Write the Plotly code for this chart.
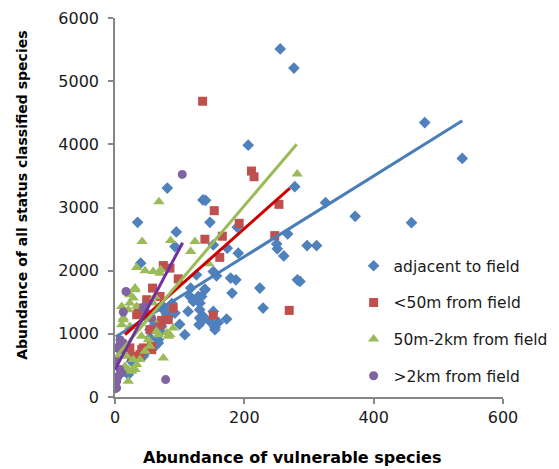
import plotly.graph_objects as go

# ---- data ----
adj_x = [255.5, 276.7, 206, 80.9, 136, 140, 278, 325.6, 479, 537, 371.4, 458.5, 297, 311.7, 286,
         146.8, 189, 267, 250, 251, 261, 190.6, 173.6, 152, 152, 157, 178.8, 187, 139, 181, 224, 282,
         229, 134, 131, 136.5, 152, 159.7, 172.6, 154.6, 35, 94.8, 92.7, 39.7, 126, 117, 116, 121,
         128.7, 131.4, 139, 108, 72, 80, 74.7, 67, 62, 43.8, 54, 130, 61.8, 69.6, 82.4, 54, 67, 49,
         36, 25.8, 20.6, 92.7, 76, 131, 136.5, 154.6, 146.8, 113, 100, 88]
adj_y = [5510, 5208, 3987, 3308, 3120, 3113, 3329, 3076, 4345, 3777, 2861, 2760, 2397, 2397, 1829,
         2766, 2687, 2582, 2424, 2345, 2234, 2277, 2356, 2408, 1986, 1918, 1882, 1855, 1708, 1645, 1724, 1855,
         1408, 1592, 1382, 1276, 1355, 1181, 1235, 1102, 2766, 2613, 2381, 2119, 1934, 1724, 1592, 1513,
         1592, 1487, 1697, 987, 1118, 1303, 1382, 856, 802, 644, 935, 1145, 1171, 1039, 1276, 1066, 908, 723,
         644, 565, 355, 1329, 1418, 1250, 1224, 1066, 1197, 1355, 1150, 1480]

lt50_x = [135.5, 211, 215, 253.5, 153.5, 192, 247, 139, 166, 162, 269.4, 152, 74.7, 85, 97.8, 58, 49,
          37.6, 33.5, 90, 72, 82.4, 69.6, 56.7, 43.8, 23, 38.6, 25.8, 69.6, 36, 54, 56.7, 41.3]
lt50_y = [4682, 3577, 3487, 3050, 2950, 2750, 2555, 2498, 2545, 2210, 1371, 1292, 2081, 2040, 1871, 1724, 1540,
          1408, 1303, 1408, 1213, 1224, 1145, 750, 777, 777, 671, 644, 1592, 1329, 1066, 802, 750]

mid_x = [68, 281.8, 145, 42, 86, 123.6, 33.5, 46.4, 59, 70.6, 69.6, 117, 31, 23, 28.3, 61.8, 59, 12.8,
         10.4, 20.6, 23, 38.6, 46.4, 59, 64.4, 80, 90, 85, 41, 51.5, 54, 74.7, 7.7, 5.1, 18, 28.3, 33.5,
         15.5, 25.8, 20.6, 31, 33.5, 23, 67, 82.4, 46.4, 38.6, 31, 20.6, 10.4, 12.8]
mid_y = [3092, 3529, 2108, 2460, 2476, 2460, 2050, 1998, 1987, 2013, 1961, 2302, 1697, 1618, 1566, 1592, 1487, 1250,
         1434, 1382, 1118, 1171, 1250, 1224, 1039, 1013, 1092, 987, 960, 908, 802, 619, 802, 644, 644, 592, 513,
         486, 407, 250, 1724, 1434, 1487, 987, 960, 723, 592, 434, 434, 1145, 1224]

far_x = [104, 17, 12.8, 43.8, 46, 78.3, 0, 2.6, 7.7, 5, 0, 7.7, 10.4, 5, 2.6, 12.8, 7.7, 49, 56.7, 2.6, 7.7, 0]
far_y = [3524, 1671, 1345, 1408, 1434, 276, 130, 145, 908, 777, 565, 434, 382, 329, 250, 856, 750, 1329, 1250, 777, 829, 592]

# linear trend lines (slope, intercept, x extent)
trend_slope = [6.38, 9.1, 12.03, 19.2]
trend_intercept = [946, 846, 622, 434]
trend_xmin = [1, 15.5, 1, 0]
trend_xmax = [537, 270.5, 281, 104.6]

names = ["adjacent to field", "<50m from field", "50m-2km from field", ">2km from field"]
xs = [adj_x, lt50_x, mid_x, far_x]
ys = [adj_y, lt50_y, mid_y, far_y]
marker_colors = ["#4F81BD", "#C0504D", "#9BBB59", "#8064A2"]
line_colors = ["#4A7EBB", "#CC0000", "#9BBB59", "#7030A0"]
symbols = ["diamond", "square", "triangle-up", "circle"]
sizes = [9, 9, 10, 9]

fig = go.Figure()
for i in range(4):
    fig.add_trace(go.Scatter(
        x=xs[i], y=ys[i], mode="markers", name=names[i], legendgroup=names[i],
        marker=dict(symbol=symbols[i], color=marker_colors[i], size=sizes[i], line=dict(width=0)),
    ))
for i in range(4):
    tx = [trend_xmin[i], trend_xmax[i]]
    ty = [trend_intercept[i] + trend_slope[i] * v for v in tx]
    fig.add_trace(go.Scatter(
        x=tx, y=ty, mode="lines", showlegend=False, hoverinfo="skip",
        line=dict(color=line_colors[i], width=3),
    ))

axis_common = dict(
    showgrid=False, zeroline=False, showline=True, linecolor="#868686", linewidth=1.5,
    ticks="outside", ticklen=5, tickcolor="#868686", tickwidth=1.5,
    tickfont=dict(family="DejaVu Sans", size=16, color="#1a1a1a"),
    automargin=False,
)
fig.update_xaxes(range=[0, 600], dtick=200, tick0=0, **axis_common)
fig.update_yaxes(range=[0, 6000], dtick=1000, tick0=0, ticklabelstandoff=6, **axis_common)

# page body has an 8px margin, so the figure is sized/placed to compensate
fig.update_layout(
    width=551, height=461,
    margin=dict(l=107, r=56, t=10, b=71.5, autoexpand=False),
    paper_bgcolor="white", plot_bgcolor="white",
    font=dict(family="DejaVu Sans", size=16, color="#1a1a1a"),
    legend=dict(x=0.615, y=0.39, xanchor="left", yanchor="top",
                bgcolor="rgba(0,0,0,0)", tracegroupgap=13.5, itemwidth=30,
                font=dict(family="DejaVu Sans", size=15.5, color="#1a1a1a")),
    annotations=[
        dict(text="<b>Abundance of vulnerable species</b>", xref="paper", yref="paper",
             x=(292 - 115) / 388, y=-(458 - 397.5) / 379.5, xanchor="center", yanchor="middle",
             showarrow=False, font=dict(family="DejaVu Sans", size=16, color="#000")),
        dict(text="<b>Abundance of all status classified species</b>", xref="paper", yref="paper",
             x=-(115 - 22) / 388, y=(397.5 - 196) / 379.5, xanchor="center", yanchor="middle",
             textangle=-90, showarrow=False, font=dict(family="DejaVu Sans", size=14, color="#000")),
    ],
)

fig.write_html("out.html")
